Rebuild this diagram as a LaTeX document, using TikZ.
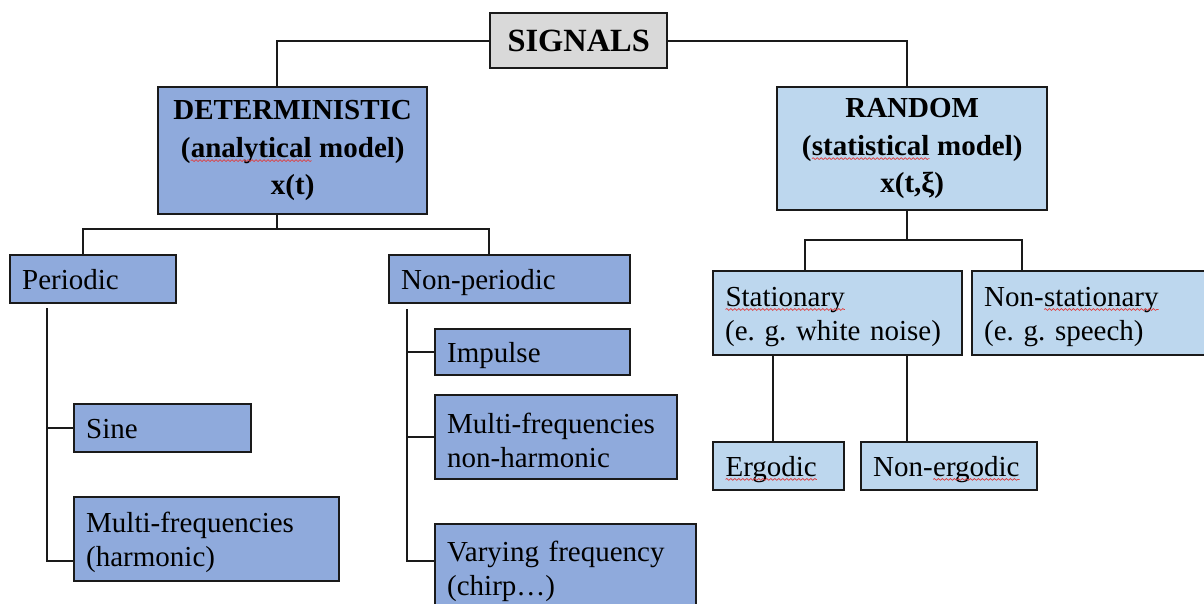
\documentclass[tikz,border=0pt]{standalone}
\usepackage{fontspec}
\setmainfont{Liberation Serif}
\usetikzlibrary{decorations.pathmorphing}
\definecolor{detblue}{HTML}{8FAADC}
\definecolor{rndblue}{HTML}{BDD7EE}
\definecolor{siggray}{HTML}{D9D9D9}
\definecolor{boxline}{HTML}{1A1A1A}
\definecolor{spellred}{HTML}{E03C3C}
\tikzset{
  link/.style={line width=1pt, draw=boxline},
  sigbox/.style={draw=boxline, line width=1.2pt, fill=siggray, anchor=north west, inner sep=0pt,
    font=\bfseries\fontsize{16.2}{19}\selectfont},
  topbox/.style={draw=boxline, line width=1.2pt, anchor=north west, align=center, inner sep=0pt,
    font=\bfseries\fontsize{14.5}{18.75}\selectfont, execute at begin node={\rule{0pt}{14pt}}},
  leaf/.style={draw=boxline, line width=1.2pt, anchor=north west, align=left, inner xsep=6pt,
    inner ysep=0pt, font=\fontsize{14.5}{17}\selectfont\frenchspacing,
    execute at begin node={\rule[-3.2pt]{0pt}{16.2pt}}},
  spellword/.style={inner sep=0pt, outer sep=0pt, draw=none, fill=none, anchor=base,
    text width=, align=none, text depth=, text height=, minimum size=0pt, font=,
    execute at begin node=},
  spellline/.style={draw=spellred, fill=none, line width=0.35pt, decorate,
    decoration={snake, amplitude=0.45pt, segment length=2pt}}
}
\newcommand{\spellwave}[1]{\tikz[baseline=(w.base)]{\node[spellword] (w) {#1};
  \draw[spellline] ([yshift=-1.7pt]w.base west) -- ([yshift=-1.7pt]w.base east);}}
\begin{document}
\begin{tikzpicture}[x=0.5pt,y=-0.5pt]
\useasboundingbox (0,0) rectangle (1204,604);
\clip (0,0) rectangle (1204,604);
\node[sigbox, minimum width=88.5pt, minimum height=27.5pt] (sig) at (489,12) {SIGNALS};
\node[topbox, fill=detblue, minimum width=134.5pt, minimum height=63.5pt] (det) at (157,86)
  {DETERMINISTIC\\(\spellwave{analytical} model)\\x(t)};
\node[topbox, fill=rndblue, minimum width=135pt, minimum height=61.5pt] (rnd) at (776,86)
  {RANDOM\\(\spellwave{statistical} model)\\x(t,ξ)};
\node[leaf, fill=detblue, text width=71pt, minimum height=24pt] (per) at (9,254) {Periodic};
\node[leaf, fill=detblue, text width=108.5pt, minimum height=24pt] (nper) at (388,254) {Non-periodic};
\node[leaf, fill=detblue, text width=76.5pt, minimum height=24pt] (sine) at (73,403) {Sine};
\node[leaf, fill=detblue, text width=120.5pt, minimum height=42pt] (mh) at (73,496) {Multi-frequencies\\(harmonic)};
\node[leaf, fill=detblue, text width=85.5pt, minimum height=23pt] (imp) at (434,328) {Impulse};
\node[leaf, fill=detblue, text width=109pt, minimum height=42pt] (mnh) at (434,394) {Multi-frequencies\\non-harmonic};
\node[leaf, fill=detblue, text width=118.5pt, minimum height=44pt] (vary) at (434,523) {Varying frequency\\(chirp…)};
\node[leaf, fill=rndblue, text width=112.5pt, minimum height=42pt] (stat) at (712,270) {\spellwave{Stationary}\\(e. g. white noise)};
\node[leaf, fill=rndblue, text width=108pt, minimum height=42pt] (nstat) at (971,270) {Non-\spellwave{stationary}\\(e. g. speech)};
\node[leaf, fill=rndblue, text width=53.5pt, minimum height=24pt] (ergo) at (712,441) {\spellwave{Ergodic}};
\node[leaf, fill=rndblue, text width=76pt, minimum height=24pt] (nergo) at (860,441) {Non-\spellwave{ergodic}};
\draw[link] (sig.west) -| ([xshift=60pt]det.north west);
\draw[link] (sig.east) -| ([xshift=65.5pt]rnd.north west);
\coordinate (dfork) at ([xshift=60pt,yshift=-7pt]det.south west);
\draw[link] ([xshift=60pt]det.south west) -- (dfork);
\draw[link] ([xshift=37pt]per.north west) |- (dfork) -| ([xshift=50.5pt]nper.north west);
\coordinate (rfork) at ([xshift=65.5pt,yshift=-14.5pt]rnd.south west);
\draw[link] ([xshift=65.5pt]rnd.south west) -- (rfork);
\draw[link] ([xshift=46.5pt]stat.north west) |- (rfork) -| ([xshift=25.5pt]nstat.north west);
\coordinate (ptop) at ([xshift=19pt,yshift=-2pt]per.south west);
\draw[link] (ptop) |- ([yshift=-11pt]mh.west);
\draw[link] (sine.west) -- (sine.west -| ptop);
\coordinate (ntop) at ([xshift=9.5pt,yshift=-2.5pt]nper.south west);
\draw[link] (ntop) |- ([yshift=3.5pt]vary.west);
\draw[link] (imp.west) -- (imp.west -| ntop);
\draw[link] (mnh.west) -- (mnh.west -| ntop);
\coordinate (s1) at ([xshift=30.5pt]stat.south west);
\coordinate (s2) at ([xshift=97.5pt]stat.south west);
\draw[link] (s1) -- (s1 |- ergo.north);
\draw[link] (s2) -- (s2 |- nergo.north);
\end{tikzpicture}
\end{document}
